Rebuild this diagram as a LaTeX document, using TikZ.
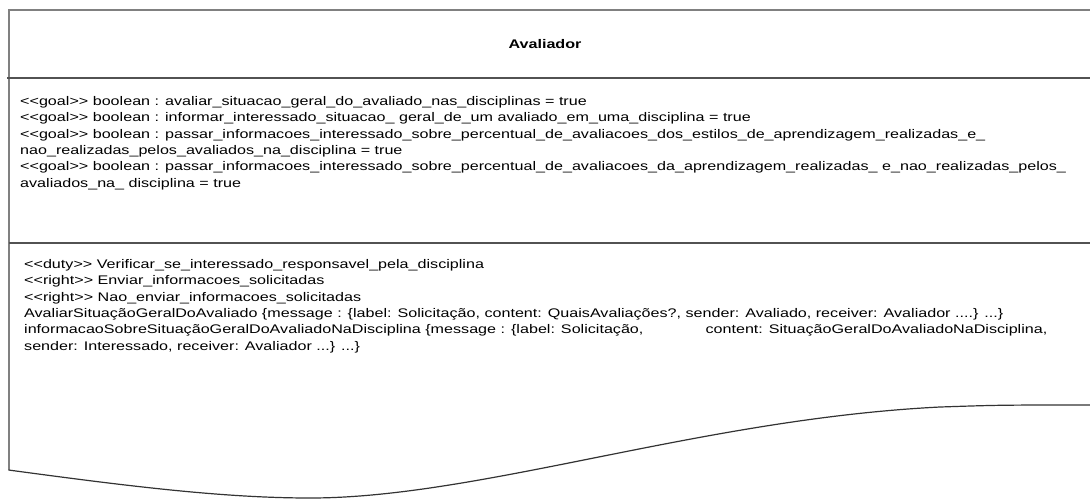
\documentclass[tikz,border=0pt]{standalone}
\usepackage{fontspec}
\setmainfont{Liberation Sans}[FakeStretch=1.29]
\newcommand\lgl{<\kern0pt<}
\newcommand\rgr{>\kern0pt>}
\begin{document}
\begin{tikzpicture}[x=1pt,y=-1pt,
  txt/.style={anchor=base west, inner sep=0pt, font=\fontsize{12.5}{16}\selectfont},
  ttl/.style={inner sep=0pt, font=\fontsize{12.5}{16}\selectfont\bfseries},
  border/.style={draw=black!50, line width=2pt},
  sep/.style={draw=black!68, line width=2pt},
  torn/.style={draw=black!80, line width=1.2pt}]
\useasboundingbox (0,0) rectangle (1090,499);
% frame
\draw[border] (1090,10) -- (8.5,10) -- (8.5,470);
\draw[sep] (7,77.5) -- (1090,77.5);
\draw[sep] (8.5,243) -- (1090,243);
\draw[torn] (8.5,470) .. controls (120,485) and (220,498) .. (310,498)
  .. controls (480,498) and (700,419) .. (940,407)
  .. controls (1000,405) .. (1090,405);
% title
\node[ttl] (title) at (545,44) {Avaliador};
% goals
\node[txt] (t1) at (20,105.5) {\lgl goal\rgr{} boolean : avaliar\_situacao\_geral\_do\_avaliado\_nas\_disciplinas = true};
\node[txt] (t2) at (20,121.8) {\lgl goal\rgr{} boolean : informar\_interessado\_situacao\_ geral\_de\_um avaliado\_em\_uma\_disciplina = true};
\node[txt] (t3) at (20,138.1) {\lgl goal\rgr{} boolean : passar\_informacoes\_interessado\_sobre\_percentual\_de\_avaliacoes\_dos\_estilos\_de\_aprendizagem\_realizadas\_e\_};
\node[txt] (t4) at (20,154.4) {nao\_realizadas\_pelos\_avaliados\_na\_disciplina = true};
\node[txt] (t5) at (20,170.7) {\lgl goal\rgr{} boolean : passar\_informacoes\_interessado\_sobre\_percentual\_de\_avaliacoes\_da\_aprendizagem\_realizadas\_ e\_nao\_realizadas\_pelos\_};
\node[txt] (t6) at (20,187) {avaliados\_na\_ disciplina = true};
% duties / rights / messages
\node[txt] (d1) at (24,268.5) {\lgl duty\rgr{} Verificar\_se\_interessado\_responsavel\_pela\_disciplina};
\node[txt] (d2) at (24,284.8) {\lgl right\rgr{} Enviar\_informacoes\_solicitadas};
\node[txt] (d3) at (24,301.1) {\lgl right\rgr{} Nao\_enviar\_informacoes\_solicitadas};
\node[txt] (d4) at (24,317.4) {AvaliarSituaçãoGeralDoAvaliado \{message : \{label: Solicitação, content: QuaisAvaliações?, sender: Avaliado, receiver: Avaliador ....\} ...\}};
\node[txt] (d5) at (24,333.7) {informacaoSobreSituaçãoGeralDoAvaliadoNaDisciplina \{message : \{label: Solicitação,\hspace{62pt}content: SituaçãoGeralDoAvaliadoNaDisciplina,};
\node[txt] (d6) at (24,350) {sender: Interessado, receiver: Avaliador ...\} ...\}};
\end{tikzpicture}
\end{document}
